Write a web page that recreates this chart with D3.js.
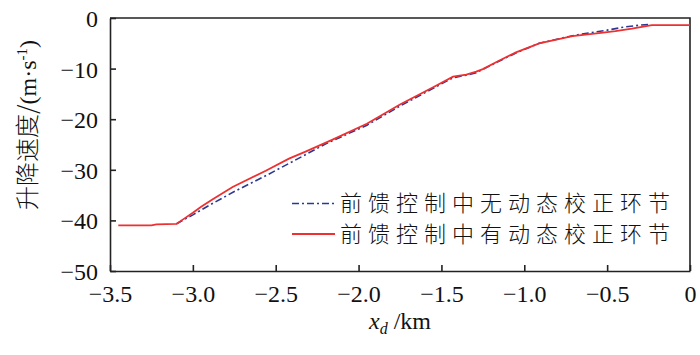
<!DOCTYPE html>
<html><head><meta charset="utf-8">
<script src="https://cdn.jsdelivr.net/npm/d3@7"></script>
</head><body style="margin:0;background:#fff"><svg id="c" width="700" height="355" style="font-family:'Liberation Serif'"></svg>
<script>
const redX = [-3.45,-3.25,-3.22,-3.1,-3.05,-3.0,-2.95,-2.88,-2.76,-2.56,-2.42,-2.32,-2.16,-1.95,-1.75,-1.55,-1.43,-1.35,-1.29,-1.25,-1.15,-1.05,-0.91,-0.71,-0.55,-0.45,-0.35,-0.23,0];
const redY = [-41,-41,-40.8,-40.7,-39.6,-38.5,-37.3,-35.8,-33.4,-30.2,-27.8,-26.4,-24.1,-20.9,-17.1,-13.7,-11.6,-11.2,-10.6,-10.1,-8.4,-6.8,-5.0,-3.6,-3.0,-2.6,-2.1,-1.4,-1.4];
const blueX = [-3.1,-3.0,-2.9,-2.75,-2.55,-2.4,-2.2,-1.95,-1.75,-1.55,-1.43,-1.35,-1.29,-1.15,-1.05,-0.91,-0.71,-0.6,-0.5,-0.4,-0.3,-0.25];
const blueY = [-40.7,-38.9,-37.0,-34.3,-31.0,-28.4,-24.9,-21.2,-17.4,-13.9,-11.8,-11.3,-10.8,-8.5,-6.9,-5.0,-3.5,-2.9,-2.4,-1.8,-1.4,-1.3];
const xTicks = [-3.5,-3.0,-2.5,-2.0,-1.5,-1.0,-0.5,0];
const yTicks = [0,-10,-20,-30,-40,-50];
const legendLabels = ["前馈控制中无动态校正环节","前馈控制中有动态校正环节"];

const SERIF = '"Liberation Serif"';
const CJK = '"Noto Sans CJK SC"';
const svg = d3.select("#c");
const L=110,R=690,T=18,B=271;
const x = d3.scaleLinear().domain([-3.5,0]).range([L,R]);
const y = d3.scaleLinear().domain([-50,0]).range([B,T]);
const fmtX = v => v===0 ? "0" : "\u2212"+Math.abs(v).toFixed(1);
const fmtY = v => v===0 ? "0" : "\u2212"+Math.abs(v);

const gx = svg.append("g").attr("transform",`translate(0,${B})`)
  .call(d3.axisBottom(x).tickValues(xTicks).tickSizeInner(-6).tickSizeOuter(0).tickPadding(14).tickFormat(fmtX));
const gy = svg.append("g").attr("transform",`translate(${L},0)`)
  .call(d3.axisLeft(y).tickValues(yTicks).tickSizeInner(-6).tickSizeOuter(0).tickPadding(12).tickFormat(fmtY));
[gx,gy].forEach(g=>{
  g.attr("font-family",SERIF).attr("font-size",24);
  g.selectAll("text").style("font-family",SERIF).attr("fill","#111");
  g.selectAll("line,path").attr("stroke","#222").attr("stroke-width",1.6);
});
gx.selectAll("text").attr("dy","0.71em");
gy.selectAll("text").attr("dy","0.35em");
svg.append("path").attr("d",`M${L},${T}H${R}V${B}`).attr("fill","none").attr("stroke","#222").attr("stroke-width",1.6);

const line = d3.line().x(d=>x(d[0])).y(d=>y(d[1]));
svg.append("path").datum(blueX.map((v,i)=>[v,blueY[i]])).attr("d",line)
  .attr("fill","none").attr("stroke","#2b3990").attr("stroke-width",1.6).attr("stroke-dasharray","7,3,2,3");
svg.append("path").datum(redX.map((v,i)=>[v,redY[i]])).attr("d",line)
  .attr("fill","none").attr("stroke","#ee3030").attr("stroke-width",1.8);

const lg = svg.append("g");
[[203.5,"#2b3990","7,3,2,3",1.6],[234,"#ee3030",null,1.8]].forEach((d,i)=>{
  lg.append("line").attr("x1",292).attr("x2",335).attr("y1",d[0]).attr("y2",d[0])
    .attr("stroke",d[1]).attr("stroke-width",d[3]).attr("stroke-dasharray",d[2]);
  lg.append("text").attr("x",340).attr("y",d[0]).attr("dy","0.36em")
    .style("font-family",CJK).style("font-size","22px").style("font-weight",300)
    .attr("textLength",330).attr("lengthAdjust","spacing").attr("fill","#111").text(legendLabels[i]);
});

// axis titles
const xt = svg.append("text").attr("x",400).attr("y",329).attr("text-anchor","middle")
  .style("font-family",SERIF).style("font-size","24px").attr("fill","#111");
xt.append("tspan").style("font-style","italic").text("x");
xt.append("tspan").style("font-style","italic").style("font-size","16px").attr("dy",5).text("d");
xt.append("tspan").attr("dy",-5).text(" /km");

const yt = svg.append("text").attr("transform","translate(36,125) rotate(-90)").attr("text-anchor","middle").attr("fill","#111");
yt.append("tspan").style("font-family",CJK).style("font-weight",300).style("font-size","24px").text("升降速度/");
yt.append("tspan").style("font-family",SERIF).style("font-size","24px").text("(m·s");
yt.append("tspan").style("font-family",SERIF).style("font-size","15px").attr("dy",-9).text("-1");
yt.append("tspan").style("font-family",SERIF).style("font-size","24px").attr("dy",9).text(")");
</script></body></html>
